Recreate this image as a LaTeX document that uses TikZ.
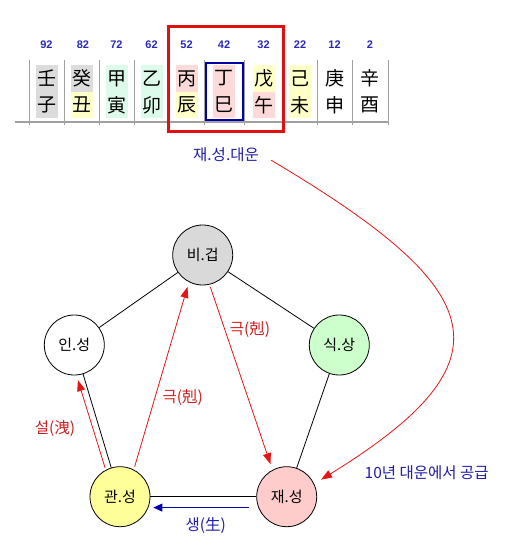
\documentclass[tikz,border=0pt]{standalone}
\usepackage{fontspec}
\setmainfont{Noto Sans CJK KR}
\newfontfamily\numfont{Liberation Sans}
\usetikzlibrary{arrows.meta}

\definecolor{numblue}{RGB}{40,40,190}
\definecolor{txtblue}{RGB}{30,30,170}
\definecolor{txtred}{RGB}{205,30,30}
\definecolor{arrowred}{RGB}{230,20,20}
\definecolor{boxred}{RGB}{225,15,15}
\definecolor{boxblue}{RGB}{0,0,170}
\definecolor{tablegray}{RGB}{160,160,160}
\definecolor{tgray}{RGB}{220,220,220}
\definecolor{tyellow}{RGB}{255,255,200}
\definecolor{tgreen}{RGB}{220,251,234}
\definecolor{tpink}{RGB}{253,218,218}
\definecolor{cgray}{RGB}{217,217,217}
\definecolor{cgreen}{RGB}{204,255,204}
\definecolor{cyellow}{RGB}{255,255,153}
\definecolor{cpink}{RGB}{255,204,204}

\begin{document}
\begin{tikzpicture}[x=1pt,y=-1pt,
  gj/.style={minimum width=22pt,minimum height=26.5pt,inner sep=0pt,font=\fontsize{19}{19}\selectfont},
  num/.style={text=numblue,font=\numfont\bfseries\fontsize{11}{12}\selectfont},
  wheel/.style={circle,draw,minimum size=60pt,inner sep=0pt,line width=0.8pt,font=\fontsize{15}{15}\selectfont},
  redarrow/.style={draw=arrowred,line width=0.8pt,-{Triangle[length=11pt,width=8pt]}},
  bluearrow/.style={draw=boxblue,line width=1pt,-{Triangle[length=9pt,width=8pt]}},
  redlabel/.style={text=txtred,font=\fontsize{15.5}{15.5}\selectfont},
  bluelabel/.style={text=txtblue,font=\fontsize{15.5}{15.5}\selectfont}]
\useasboundingbox (0,0) rectangle (513,548);

% Table grid of the ten luck pillars.
\draw[tablegray,line width=0.8pt] (29,60) -- (29,125) (64,60) -- (64,125) (99,60) -- (99,125)
  (134,60) -- (134,125) (169,60) -- (169,125) (204,60) -- (204,125) (244,60) -- (244,125)
  (283,60) -- (283,125) (317,60) -- (317,125) (352,60) -- (352,125) (388,60) -- (388,125);
\draw[tablegray,line width=1.5pt] (15,122) -- (388,122);

\node[num] (n92) at (46.5,45) {92};
\node[num] (n82) at (83,45) {82};
\node[num] (n72) at (116.5,45) {72};
\node[num] (n62) at (151.5,45) {62};
\node[num] (n52) at (186.5,45) {52};
\node[num] (n42) at (224,45) {42};
\node[num] (n32) at (263.5,45) {32};
\node[num] (n22) at (300,45) {22};
\node[num] (n12) at (334.5,45) {12};
\node[num] (n2) at (370,45) {2};

% heavenly stems (top row)
\node[gj,fill=tgray] (g1) at (46.5,78.5) {壬};
\node[gj,fill=tgray] (g2) at (81.5,78.5) {癸};
\node[gj,fill=tgreen] (g3) at (116.5,78.5) {甲};
\node[gj,fill=tgreen] (g4) at (151.5,78.5) {乙};
\node[gj,fill=tpink] (g5) at (186.5,78.5) {丙};
\node[gj,fill=tpink] (g6) at (224,78.5) {丁};
\node[gj,fill=tyellow] (g7) at (263.5,78.5) {戊};
\node[gj,fill=tyellow] (g8) at (300,78.5) {己};
\node[gj] (g9) at (334.5,78.5) {庚};
\node[gj] (g10) at (370,78.5) {辛};

% earthly branches (bottom row)
\node[gj,fill=tgray] (j1) at (46.5,105) {子};
\node[gj,fill=tyellow] (j2) at (81.5,105) {丑};
\node[gj,fill=tgreen] (j3) at (116.5,105) {寅};
\node[gj,fill=tgreen] (j4) at (151.5,105) {卯};
\node[gj,fill=tyellow] (j5) at (186.5,105) {辰};
\node[gj,fill=tpink] (j6) at (224,105) {巳};
\node[gj,fill=tpink] (j7) at (263.5,105) {午};
\node[gj,fill=tyellow] (j8) at (300,105) {未};
\node[gj] (j9) at (334.5,105) {申};
\node[gj] (j10) at (370,105) {酉};

\draw[boxblue,line width=2pt] (206,63) rectangle (243,120);
\draw[boxred,line width=3pt] (168,27) rectangle (283,132);

\node[bluelabel] (dy) at (226,155) {재.성.대운};

% Five element circles.
\node[wheel,fill=cgray] (bg) at (202.7,255) {비.겁};
\node[wheel,fill=white] (ins) at (74.3,345) {인.성};
\node[wheel,fill=cgreen] (ss) at (339.3,345) {식.상};
\node[wheel,fill=cyellow] (gs) at (120,496.7) {관.성};
\node[wheel,fill=cpink] (js) at (286.7,496.7) {재.성};

\draw[line width=0.8pt] (bg) -- (ins);
\draw[line width=0.8pt] (bg) -- (ss);
\draw[line width=0.8pt] (ss) -- (js);
\draw[line width=0.8pt] (ins) -- (gs);
\draw[line width=0.8pt] (gs) -- (js);

% red arrows and their labels
\draw[redarrow,shorten <=2pt,shorten >=5pt] (gs.118) -- (ins.-86);
\draw[redarrow,shorten <=3pt,shorten >=5pt] (gs.63) -- (bg.-117);
\draw[redarrow,shorten <=2.5pt,shorten >=6pt] (bg.-77) -- (js.118);
\draw[redarrow,shorten <=10pt,shorten >=8pt] (dy.east) .. controls (490,290) and (515,360) .. (js.25);

\node[redlabel] (sl) at (55,429) {설(洩)};
\node[redlabel] (k1) at (182.7,398) {극(剋)};
\node[redlabel] (k2) at (250,330) {극(剋)};

\draw[bluearrow,shorten <=9pt,shorten >=5pt] (js.201.5) -- (gs.-21.5);
\node[bluelabel] (sg) at (205.7,526) {생(生)};
\node[bluelabel] (gg) at (426.7,473) {10년 대운에서 공급};
\end{tikzpicture}
\end{document}
